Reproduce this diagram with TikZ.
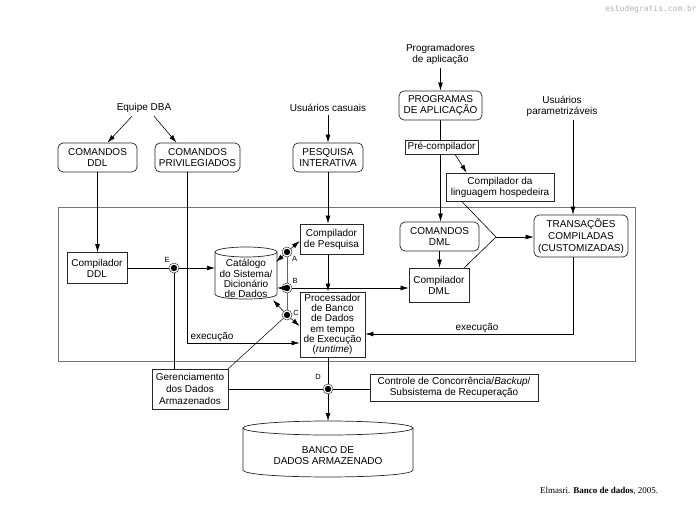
\documentclass[tikz,border=0pt]{standalone}
\usepackage{fontspec}
\setmainfont{Liberation Sans}
\newfontfamily\citefont{Liberation Serif}
\newfontfamily\wmfont{DejaVu Sans Mono}
\usetikzlibrary{arrows.meta,calc}
\begin{document}
\begin{tikzpicture}[x=1pt,y=-1pt,
  font=\fontsize{10}{11}\selectfont,
  box/.style={draw=black!85, line width=0.7pt, fill=white, inner sep=0pt, align=center},
  rbox/.style={box, rounded corners=5pt},
  ln/.style={line width=0.6pt, draw=black},
  arr/.style={ln, -{Latex[length=8pt,width=4.8pt]}},
  dotn/.style={circle, draw=black!80, line width=0.5pt, fill=white, minimum size=10pt, inner sep=0pt,
    path picture={\fill[black] (path picture bounding box.center) circle (3.2pt);}},
  lbl/.style={font=\fontsize{7.5}{8}\selectfont, inner sep=0pt},
  txt/.style={align=center},
]
\useasboundingbox (0,0) rectangle (700,516);
\fill[white] (0,0) rectangle (700,516);

% frame
\draw[draw=black!55, line width=0.6pt] (58,207) rectangle (635,361);

% top labels
\node[txt] (progr) at (440.5,54.5) {Programadores\\de aplicação};
\node[txt] (casuais) at (328,108) {Usuários casuais};
\node[txt] (param) at (562,106) {Usuários\\parametrizáveis};
\node[txt] (equipe) at (144,108) {Equipe DBA};

% boxes
\node[rbox, minimum width=79pt, minimum height=29pt] (cmdddl) at (97.5,157.5) {COMANDOS\\DDL};
\node[rbox, minimum width=85pt, minimum height=29pt] (cmdpriv) at (197.5,157.5) {COMANDOS\\PRIVILEGIADOS};
\node[rbox, minimum width=70pt, minimum height=29pt] (pesq) at (328,157.5) {PESQUISA\\INTERATIVA};
\node[rbox, minimum width=83pt, minimum height=29pt] (prog) at (440.5,105.5) {PROGRAMAS\\DE APLICAÇÃO};
\node[box, minimum width=108pt, minimum height=28pt] (ling) at (500,187) {Compilador da\\linguagem hospedeira};
\node[rbox, minimum width=94pt, minimum height=42pt, font=\fontsize{10}{12}\selectfont] (trans) at (581,236) {TRANSAÇÕES\\COMPILADAS\\(CUSTOMIZADAS)};
\node[rbox, minimum width=79pt, minimum height=29pt] (cmddml) at (439.5,236.5) {COMANDOS\\DML};
\node[box, minimum width=60pt, minimum height=34pt] (compdml) at (439,285) {Compilador\\DML};
\node[box, minimum width=60pt, minimum height=31pt] (compddl) at (97,268) {Compilador\\DDL};
\node[box, minimum width=63pt, minimum height=30pt] (comppesq) at (331.5,239) {Compilador\\de Pesquisa};
\node[box, line width=0.9pt, minimum width=65pt, minimum height=65pt, font=\fontsize{10}{10.2}\selectfont] (proc) at (332.5,324.5)
  {Processador\\de Banco\\de Dados\\em tempo\\de Execução\\(\textit{runtime})};
\node[box, minimum width=76pt, minimum height=40pt, font=\fontsize{10}{12}\selectfont] (ger) at (190,389) {Gerenciamento\\dos Dados\\Armazenados};
\node[box, minimum width=168pt, minimum height=27pt] (ctrl) at (454,387.5) {Controle de Concorrência/\textit{Backup}/\\Subsistema de Recuperação};

% line from programs through pre-compiler
\draw[arr] (prog.south) -- (prog.south |- cmddml.north);
\node[box, minimum width=73pt, minimum height=14pt] (precomp) at (441.5,147) {Pré-compilador};

% catalog cylinder
\draw[line width=0.7pt, draw=black!85, fill=white] (215,252) -- (215,294) .. controls (215,300.7) and (277,300.7) .. (277,294) -- (277,252);
\draw[line width=0.7pt, draw=black!85] (246,252) ellipse [x radius=31pt, y radius=5pt];
\node[txt, font=\fontsize{10}{10.2}\selectfont] (catalog) at (246,278.5) {Catálogo\\do Sistema/\\Dicionário\\de Dados};
\coordinate (catE) at (215,268);
\coordinate (catA) at (276,262);
\coordinate (catB) at (277,288);
\coordinate (catC) at (273,300);

% stored database cylinder
\draw[line width=0.7pt, draw=black!85, fill=white] (243,428) -- (243,470) .. controls (243,479.3) and (413,479.3) .. (413,470) -- (413,428);
\draw[line width=0.7pt, draw=black!85] (328,428) ellipse [x radius=85pt, y radius=7pt];
\node[txt] (banco) at (328,456) {BANCO DE\\DADOS ARMAZENADO};
\coordinate (bancoTop) at (328,421);

% dots
\node[dotn] (A) at (287,252) {};
\node[dotn] (B) at (287,288) {};
\node[dotn] (C) at (287,315) {};
\node[dotn] (E) at (174,268) {};
\node[dotn] (D) at (328,389) {};
\node[lbl] at (294.5,259) {A};
\node[lbl] at (295,281) {B};
\node[lbl] at (296,313) {C};
\node[lbl] at (318,377) {D};
\node[lbl] at (167,260) {E};

% connectors top
\draw[arr] (progr.south) -- (prog.north);
\draw[arr] (casuais.south) -- (pesq.north);
\coordinate (tp) at ($(trans.north)+(-8,0)$);
\draw[arr] (param.south -| tp) -- (tp);
\draw[arr] ($(equipe.south)+(-12,0)$) -- ($(cmdddl.north)+(10,0)$);
\draw[arr] ($(equipe.south)+(10,0)$) -- ($(cmdpriv.north)+(-21,0)$);
\draw[arr] ($(precomp.south)+(13.5,0)$) -- ($(ling.north west)+(21,0)$);

% DDL path
\draw[arr] (cmdddl.south) -- (cmdddl.south |- compddl.north);
\draw[ln] (compddl.east) -- (E);
\draw[arr] (E) -- (catE);
\draw[ln] (E) -- (E |- ger.north);

% privileged commands -> processor
\coordinate (pv) at ($(cmdpriv.south)+(-10.5,0)$);
\coordinate (pe) at ($(proc.west)+(0,18.5)$);
\draw[arr] (pv) |- (pe);
\node[txt, inner sep=0pt] at (212,337) {execução};

% query path
\draw[arr] (pesq.south) -- (pesq.south |- comppesq.north);
\draw[arr] (comppesq.south -| pesq.south) -- (pesq.south |- proc.north);

% A, B, C
\draw[line width=0.5pt, draw=black!60] (A) -- (B) -- (C);
\draw[arr] (A) -- (catA);
\draw[arr] (A) -- ($(comppesq.west)+(0,2)$);
\draw[arr] (B) -- (catB);
\draw[arr] (B) -- (B -| compdml.west);
\draw[arr] (C) -- (catC);
\draw[arr] (C) -- ($(proc.west)+(0,1.5)$);
\draw[line width=0.5pt] (ger.north east) -- (C);

% DML path
\draw[arr] (cmddml.south) -- (cmddml.south |- compdml.north);
\coordinate (cv) at (496,237);
\draw[ln] ($(ling.south west)+(16,0)$) -- (cv);
\draw[ln] ($(compdml.north east)+(-5,0)$) -- (cv);
\draw[arr] (cv) -- (cv -| trans.west);

% transactions -> processor
\coordinate (ts) at ($(trans.south)+(-8,0)$);
\draw[arr] (ts) |- ($(proc.east)+(0,9.5)$);
\node[txt, inner sep=0pt] at (477,328) {execução};

% storage
\draw[ln] (proc.south -| D) -- (D);
\draw[arr] (D) -- (bancoTop);
\draw[ln] (ger.east |- D) -- (D);
\draw[ln] (D) -- (D -| ctrl.west);

% citation and watermark
\node[font=\citefont\fontsize{9}{10}\selectfont, anchor=west, inner sep=0pt] (cite) at (540,491) {Elmasri. \textbf{Banco de dados}, 2005.};
\node[font=\wmfont\fontsize{8}{9}\selectfont, text=black!30, anchor=east, inner sep=0pt] (wm) at (697,9) {estudegratis.com.br};
\end{tikzpicture}
\end{document}
